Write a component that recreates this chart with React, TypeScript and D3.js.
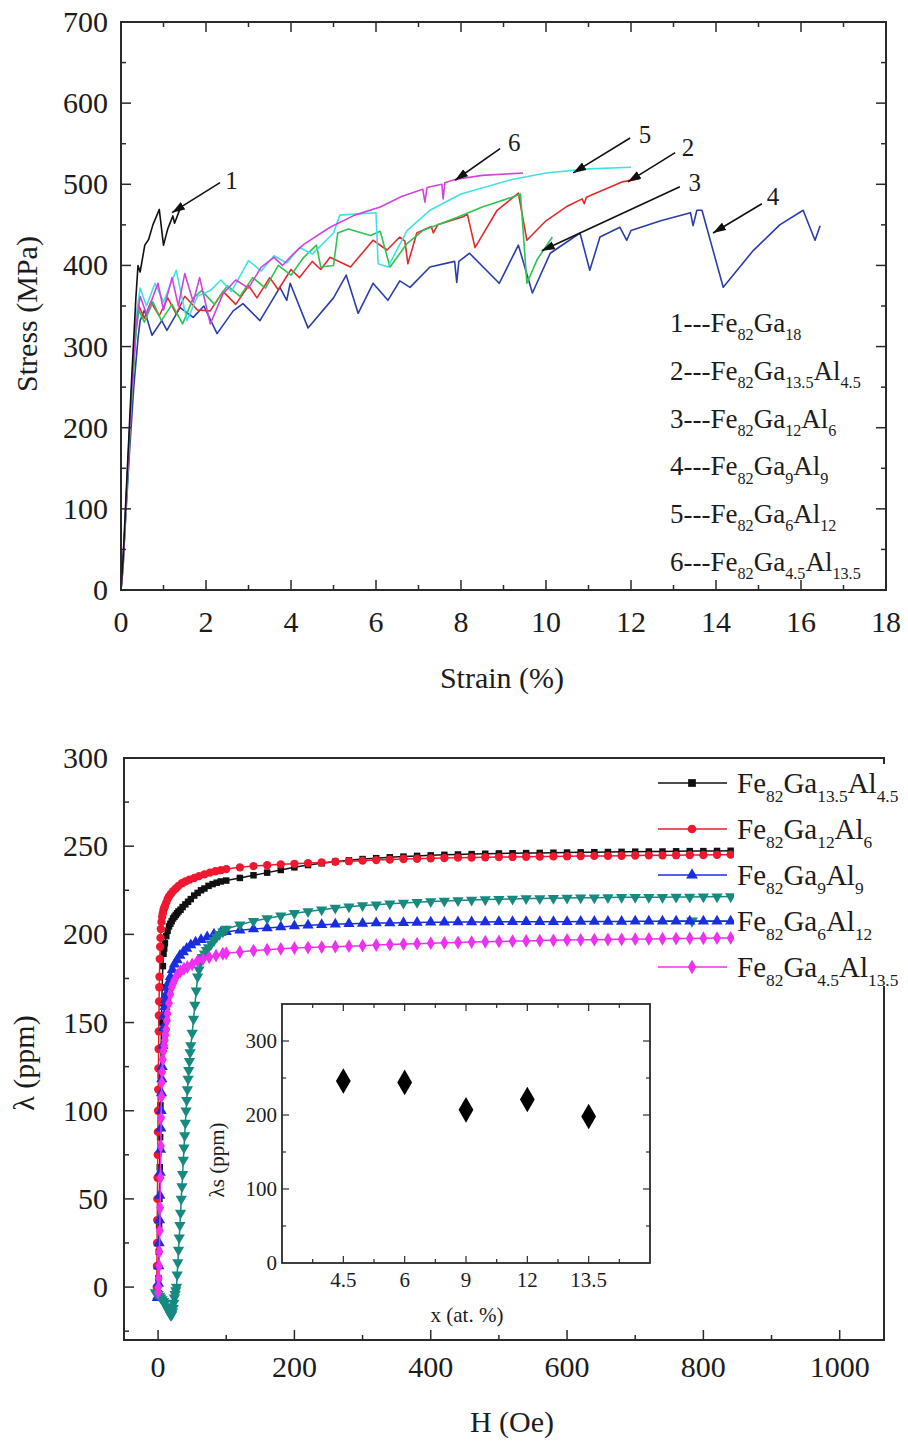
import React from 'react';
import * as d3 from 'd3';

type P = [number, number];
const FONT = "'Liberation Serif', 'DejaVu Serif', 'Times New Roman', Times, serif";
const INK = '#1c1c1c';

// ---------------- Top chart: stress-strain ----------------
const strainTicks = [0, 2, 4, 6, 8, 10, 12, 14, 16, 18];
const stressTicks = [0, 100, 200, 300, 400, 500, 600, 700];

const curve1: P[] = [[0,0],[0.05,40],[0.15,150],[0.25,260],[0.35,360],[0.4,400],[0.45,392],[0.56,425],[0.65,432],[0.75,450],[0.9,469],[1.0,425],[1.1,445],[1.22,461],[1.26,452],[1.39,470]];
const curve2: P[] = [[0,0],[0.05,30],[0.15,140],[0.25,240],[0.35,320],[0.42,350],[0.55,335],[0.7,355],[0.9,338],[1.1,360],[1.3,340],[1.5,362],[1.8,345],[2.1,344],[2.4,368],[2.7,352],[3.0,375],[3.2,360],[3.5,385],[3.7,370],[4.0,395],[4.2,385],[4.5,405],[4.7,395],[4.92,410],[5.4,398],[5.93,431],[6.26,419],[6.56,435],[6.68,430],[6.75,402],[6.96,440],[7.3,448],[7.35,440],[7.45,450],[8.05,460],[8.15,463],[8.33,422],[8.85,468],[9.35,489],[9.55,431],[10.0,455],[10.5,473],[10.85,482],[10.9,476],[10.95,484],[11.8,503],[12.2,507]];
const curve3: P[] = [[0,0],[0.05,30],[0.15,135],[0.25,235],[0.35,315],[0.42,345],[0.55,330],[0.75,355],[0.95,332],[1.2,352],[1.45,328],[1.7,360],[1.9,369],[2.2,352],[2.5,375],[2.8,362],[3.1,385],[3.4,372],[3.7,400],[4.0,388],[4.3,410],[4.6,425],[4.7,398],[5.0,400],[5.1,440],[5.35,445],[5.87,437],[6.1,442],[6.33,398],[6.73,427],[7.1,443],[7.9,459],[8.5,472],[9.2,484],[9.4,488],[9.55,378],[9.8,408],[10.15,435]];
const curve4: P[] = [[0,0],[0.1,80],[0.2,170],[0.3,250],[0.4,310],[0.45,332],[0.55,345],[0.73,314],[0.96,332],[1.08,320],[1.39,348],[1.7,336],[1.95,350],[2.26,316],[2.64,344],[2.87,353],[3.27,332],[3.74,373],[3.9,357],[3.98,378],[4.4,323],[5.0,360],[5.3,388],[5.58,341],[5.93,378],[6.28,357],[6.56,381],[6.8,373],[7.27,398],[7.85,405],[7.9,379],[7.95,405],[8.2,415],[8.9,378],[9.35,425],[9.68,366],[10.1,415],[10.8,440],[11.03,394],[11.27,435],[11.74,447],[11.9,431],[12.0,443],[12.7,455],[13.4,465],[13.46,449],[13.55,468],[13.67,468],[14.17,373],[14.87,418],[15.5,450],[16.05,468],[16.33,431],[16.45,449]];
const curve5: P[] = [[0,0],[0.05,30],[0.15,145],[0.25,250],[0.35,335],[0.45,372],[0.6,350],[0.8,378],[1.0,355],[1.3,394],[1.55,332],[1.8,362],[2.1,369],[2.35,382],[2.6,368],[3.0,406],[3.3,393],[3.6,412],[3.9,403],[4.2,422],[4.5,414],[5.0,440],[5.15,462],[6.0,465],[6.05,402],[6.28,398],[6.73,443],[7.27,468],[8.0,488],[9.2,506],[10.0,514],[11.0,519],[12.0,521]];
const curve6: P[] = [[0,0],[0.05,30],[0.15,140],[0.25,245],[0.35,325],[0.45,362],[0.6,340],[0.87,378],[1.0,345],[1.2,385],[1.35,350],[1.5,390],[1.7,355],[1.85,385],[2.1,328],[2.4,365],[2.7,382],[3.0,372],[3.3,398],[3.6,410],[3.8,400],[4.05,414],[4.3,426],[4.92,447],[5.5,462],[6.1,472],[6.6,485],[7.1,494],[7.15,478],[7.2,496],[7.55,500],[7.58,482],[7.62,502],[7.86,506],[8.5,511],[9.46,514]];

const topCurves = [curve4, curve2, curve3, curve5, curve6, curve1];
const topColors = ['#2a3eaa', '#e32a2e', '#2dc450', '#3ee2e6', '#cf44dc', '#111111'];

const topLegend = [
  '1---Fe_{82}Ga_{18}',
  '2---Fe_{82}Ga_{13.5}Al_{4.5}',
  '3---Fe_{82}Ga_{12}Al_{6}',
  '4---Fe_{82}Ga_{9}Al_{9}',
  '5---Fe_{82}Ga_{6}Al_{12}',
  '6---Fe_{82}Ga_{4.5}Al_{13.5}',
];

const arrowLabels = ['1', '2', '3', '4', '5', '6'];
const arrowTail: P[] = [[2.33, 502], [13.04, 539], [13.15, 497], [15.08, 476], [11.98, 557], [8.92, 544]];
const arrowTip: P[] = [[1.2, 465], [11.93, 503], [9.9, 418], [13.93, 440], [10.64, 514], [7.86, 505]];
const arrowLabelPos: P[] = [[2.6, 504], [13.34, 545], [13.5, 502], [15.34, 484], [12.33, 561], [9.25, 551]];

// ---------------- Bottom chart: magnetostriction ----------------
const hTicks = [0, 200, 400, 600, 800, 1000];
const lambdaTicks = [0, 50, 100, 150, 200, 250, 300];

const hHigh = [100,120,140,160,180,200,220,240,260,280,300,320,340,360,380,400,420,440,460,480,500,520,540,560,580,600,620,640,660,680,700,720,740,760,780,800,820,840];

const lowBlack: P[] = [[0,-5],[0.5,5],[1,20],[1.5,35],[2,50],[2.5,68],[3,85],[3.5,103],[4,120],[4.5,136],[5,150],[5.5,161],[6,170],[7,182],[8,189],[9,192],[10,195],[12,199],[14,202],[16,204.5],[18,206],[20,207.5],[22,209],[24,210],[26,211],[28,212],[30,213],[33,214],[36,215.5],[40,217],[44,218.5],[48,220],[53,222],[58,223.5],[63,225],[68,226],[74,227.5],[80,228.5],[86,229.3],[92,230]];
const highBlack = [230.5,232,233.5,235,236.5,238,239.3,240.3,241.2,242,242.7,243.2,243.7,244.1,244.5,244.8,245.1,245.3,245.5,245.7,245.9,246,246.1,246.2,246.3,246.4,246.5,246.6,246.7,246.8,246.9,247,247,247.1,247.2,247.2,247.3,247.4];

const lowRed: P[] = [[-2,0],[-1.75,12],[-1.5,25],[-1.25,38],[-1,50],[-0.75,62],[-0.5,75],[-0.25,88],[0,100],[0.25,112],[0.5,124],[0.75,135],[1,145],[1.25,154],[1.5,162],[1.75,170],[2,176],[2.5,186],[3,193],[3.5,198],[4,203],[5,207],[6,210],[7,212],[8,214],[9,215],[10,216],[12,218],[14,220],[16,221.5],[19,223],[22,224.5],[26,226],[30,227.5],[35,229],[40,230],[46,231],[53,232],[60,233],[68,234],[76,235],[84,235.8],[92,236.4]];
const highRed = [237,238,238.7,239.2,239.7,240,240.4,240.8,241.2,241.5,241.8,242.1,242.4,242.7,242.9,243.1,243.3,243.5,243.6,243.7,243.8,243.9,244,244.1,244.2,244.3,244.4,244.5,244.5,244.6,244.7,244.8,244.8,244.9,245,245,245.1,245.2];

const lowBlue: P[] = [[-1,-6],[0,-5],[0.5,2],[1,12],[1.5,25],[2,38],[2.5,52],[3,65],[3.5,78],[4,90],[4.5,100],[5,110],[5.5,118],[6,125],[7,137],[8,147],[9,154],[10,159],[11,163],[12,166],[14,170],[16,173],[18,176],[21,180],[24,183],[28,185.5],[32,188],[37,190],[42,192],[48,194],[55,195.5],[63,197],[72,198.5],[82,200],[92,201]];
const highBlue = [201.5,202.3,203,203.6,204.2,204.8,205.2,205.5,205.8,206,206.2,206.4,206.5,206.6,206.7,206.8,206.9,207,207,207,207.1,207.1,207.1,207.2,207.2,207.2,207.3,207.3,207.3,207.3,207.4,207.4,207.4,207.4,207.5,207.5,207.5,207.5];

const lowTeal: P[] = [[-4,-3],[-2,-3.5],[0,-4],[2,-5],[4,-6],[6,-7],[8,-8],[10,-9],[12,-11],[14,-12.5],[16,-14],[18,-15.5],[19,-16],[20,-15.5],[21,-14],[22,-12],[23,-9],[24,-6],[25,-4],[26,-2],[27,0],[28,7],[29,14],[30,21],[31,28],[32,35],[33,42],[34,50],[35,57],[36,64],[37,72],[38,79],[39,86],[40,93],[41,100],[42,106],[43,112],[44,118],[45,123],[46,128],[47,133],[48,137],[50,144],[52,152],[54,160],[56,168],[58,176],[60,180],[62,184],[65,187],[68,189],[71,191],[74,192.5],[78,194.5],[82,196.5],[86,198.5],[90,200],[95,201.5]];
const highTeal = [203,205.5,207.5,209,210.5,212,213,214,215,215.7,216.3,216.8,217.3,217.8,218.2,218.6,218.9,219.2,219.5,219.7,219.9,220.1,220.3,220.4,220.5,220.6,220.7,220.8,220.9,221,221,221.1,221.1,221.2,221.2,221.3,221.3,221.4];

const lowMag: P[] = [[0,-3],[0.5,0],[1,5],[1.5,12],[2,20],[2.5,32],[3,45],[3.5,62],[4,80],[4.5,96],[5,108],[5.5,116],[6,122],[7,129],[8,134],[9,137],[10,140],[11,143],[12,146],[13,151],[14,155],[16,161],[18,166],[20,170],[22,172],[24,174],[28,177],[33,179],[38,180.5],[43,181.5],[50,183],[58,185],[66,186],[75,187],[85,188],[95,189]];
const highMag = [189.3,190,190.8,191.3,191.8,192.2,192.5,192.8,193,193.3,193.6,193.9,194.2,194.5,194.7,195,195.2,195.4,195.6,195.8,196,196.2,196.3,196.5,196.6,196.8,196.9,197,197.1,197.2,197.3,197.4,197.5,197.6,197.7,197.8,197.9,198];

const seriesNames = [
  'Fe_{82}Ga_{13.5}Al_{4.5}',
  'Fe_{82}Ga_{12}Al_{6}',
  'Fe_{82}Ga_{9}Al_{9}',
  'Fe_{82}Ga_{6}Al_{12}',
  'Fe_{82}Ga_{4.5}Al_{13.5}',
];
const seriesColors = ['#111111', '#f01830', '#1a2ee0', '#178a80', '#f030f0'];
const seriesSymbols = [d3.symbolSquare, d3.symbolCircle, d3.symbolTriangle, d3.symbolTriangle, d3.symbolDiamond];
const seriesRotate = [0, 0, 0, 180, 0];
const lowParts = [lowBlack, lowRed, lowBlue, lowTeal, lowMag];
const highParts = [highBlack, highRed, highBlue, highTeal, highMag];

// inset
const insetCats = ['4.5', '6', '9', '12', '13.5'];
const insetLambdaS = [246, 244, 207, 221, 198];
const insetYTicks = [0, 100, 200, 300];

// ---------------- helpers ----------------
const txt = (size: number) => ({ fontFamily: FONT, fontSize: size + 'px' });

function Formula({ x, y, text, size }: { x: number; y: number; text: string; size: number }) {
  const parts = text.split(/(_\{[^}]*\})/).filter((s) => s.length);
  const sub = size * 0.6;
  const shift = size * 0.3;
  let low = false;
  const spans = parts.map((p, i) => {
    if (p.startsWith('_{')) {
      const dy = low ? 0 : shift;
      low = true;
      return <tspan key={i} style={{ fontSize: sub + 'px' }} dy={dy}>{p.slice(2, -1)}</tspan>;
    }
    const dy = low ? -shift : 0;
    low = false;
    return <tspan key={i} style={{ fontSize: size + 'px' }} dy={dy}>{p}</tspan>;
  });
  return (
    <text x={x} y={y} style={txt(size)} fill={INK}>
      {spans}
    </text>
  );
}

export default function App() {
  const xT = d3.scaleLinear().domain([0, 18]).range([121, 886]);
  const yT = d3.scaleLinear().domain([0, 700]).range([590, 22]);
  const lineT = d3.line<P>().x((d) => xT(d[0])).y((d) => yT(d[1]));

  const xB = d3.scaleLinear().domain([-50, 1065]).range([124, 884]);
  const yB = d3.scaleLinear().domain([-30, 300]).range([1340, 758]);
  const lineB = d3.line<P>().x((d) => xB(d[0])).y((d) => yB(d[1]));

  const xI = d3.scaleLinear().domain([0, 6]).range([282, 650]);
  const yI = d3.scaleLinear().domain([0, 350]).range([1263, 1004]);

  const series: P[][] = lowParts.map((low, s) => low.concat(hHigh.map((h, i) => [h, highParts[s][i]] as P)));

  const strainMinor = d3.range(1, 18, 2);
  const stressMinor = d3.range(50, 700, 100);
  const hMinor = d3.range(100, 1001, 200);
  const lambdaMinor = d3.range(-25, 300, 50);

  const frame = '#2a2a2a';

  return (
    <svg width={908} height={1442} style={{ position: 'absolute', left: 0, top: 0, background: '#fff' }}>
      <defs>
        <marker id="ah" viewBox="0 0 12 8" refX="12" refY="4" markerWidth="13" markerHeight="9" markerUnits="userSpaceOnUse" orient="auto">
          <path d="M0,0 L12,4 L0,8 z" fill="#111" />
        </marker>
      </defs>
      <rect x={0} y={0} width={908} height={1442} fill="#fff" />

      {/* ================= TOP CHART ================= */}
      {topCurves.map((c, i) => (
        <path key={'tc' + i} d={lineT(c) || ''} fill="none" stroke={topColors[i]} strokeWidth={1.6} strokeLinejoin="round" />
      ))}

      <rect x={xT(0)} y={yT(700)} width={xT(18) - xT(0)} height={yT(0) - yT(700)} fill="none" stroke={frame} strokeWidth={2} />
      {strainTicks.map((t) => (
        <g key={'sx' + t}>
          <line x1={xT(t)} x2={xT(t)} y1={yT(0)} y2={yT(0) - 10} stroke={frame} strokeWidth={1.5} />
          <line x1={xT(t)} x2={xT(t)} y1={yT(700)} y2={yT(700) + 10} stroke={frame} strokeWidth={1.5} />
          <text x={xT(t)} y={632} style={txt(30)} fill={INK} textAnchor="middle">{t}</text>
        </g>
      ))}
      {strainMinor.map((t) => (
        <g key={'sxm' + t}>
          <line x1={xT(t)} x2={xT(t)} y1={yT(0)} y2={yT(0) - 5} stroke={frame} strokeWidth={1.5} />
          <line x1={xT(t)} x2={xT(t)} y1={yT(700)} y2={yT(700) + 5} stroke={frame} strokeWidth={1.5} />
        </g>
      ))}
      {stressTicks.map((t) => (
        <g key={'sy' + t}>
          <line x1={xT(0)} x2={xT(0) + 10} y1={yT(t)} y2={yT(t)} stroke={frame} strokeWidth={1.5} />
          <line x1={xT(18)} x2={xT(18) - 10} y1={yT(t)} y2={yT(t)} stroke={frame} strokeWidth={1.5} />
          <text x={108} y={yT(t) + 10} style={txt(30)} fill={INK} textAnchor="end">{t}</text>
        </g>
      ))}
      {stressMinor.map((t) => (
        <g key={'sym' + t}>
          <line x1={xT(0)} x2={xT(0) + 5} y1={yT(t)} y2={yT(t)} stroke={frame} strokeWidth={1.5} />
          <line x1={xT(18)} x2={xT(18) - 5} y1={yT(t)} y2={yT(t)} stroke={frame} strokeWidth={1.5} />
        </g>
      ))}
      <text x={502} y={688} style={txt(30)} fill={INK} textAnchor="middle">Strain (%)</text>
      <text transform="translate(37,314) rotate(-90)" style={txt(30)} fill={INK} textAnchor="middle">Stress (MPa)</text>

      {arrowLabels.map((lab, i) => (
        <g key={'ar' + i}>
          <line x1={xT(arrowTail[i][0])} y1={yT(arrowTail[i][1])} x2={xT(arrowTip[i][0])} y2={yT(arrowTip[i][1])} stroke="#111" strokeWidth={1.6} markerEnd="url(#ah)" />
          <text x={xT(arrowLabelPos[i][0])} y={yT(arrowLabelPos[i][1]) + 8} style={txt(25)} fill={INK} textAnchor="middle">{lab}</text>
        </g>
      ))}

      {topLegend.map((t, i) => (
        <Formula key={'tl' + i} x={670} y={332 + i * 47.8} text={t} size={27} />
      ))}

      {/* ================= BOTTOM CHART ================= */}
      {seriesNames.map((n, i) => {
        const y = 783 + i * 46;
        const sym = d3.symbol().type(seriesSymbols[i]).size(60)();
        return (
          <g key={'bl' + i}>
            <line x1={658} x2={727} y1={y} y2={y} stroke={seriesColors[i]} strokeWidth={1.6} />
            <path d={sym || ''} transform={`translate(692,${y}) rotate(${seriesRotate[i]})`} fill={seriesColors[i]} />
          </g>
        );
      })}

      {series.map((pts, s) => {
        const sym = d3.symbol().type(seriesSymbols[s]).size(s === 0 ? 42 : 55)() || '';
        return (
          <g key={'bs' + s}>
            <path d={lineB(pts) || ''} fill="none" stroke={seriesColors[s]} strokeWidth={1.5} />
            {pts.map((p, i) => (
              <path key={i} d={sym} transform={`translate(${xB(p[0])},${yB(p[1])}) rotate(${seriesRotate[s]})`} fill={seriesColors[s]} />
            ))}
          </g>
        );
      })}

      <rect x={xB(-50)} y={yB(300)} width={xB(1065) - xB(-50)} height={yB(-30) - yB(300)} fill="none" stroke={frame} strokeWidth={2} />
      {hTicks.map((t) => (
        <g key={'hx' + t}>
          <line x1={xB(t)} x2={xB(t)} y1={yB(-30)} y2={yB(-30) - 10} stroke={frame} strokeWidth={1.5} />
          <text x={xB(t)} y={1377} style={txt(30)} fill={INK} textAnchor="middle">{t}</text>
        </g>
      ))}
      {hMinor.map((t) => (
        <line key={'hxm' + t} x1={xB(t)} x2={xB(t)} y1={yB(-30)} y2={yB(-30) - 5} stroke={frame} strokeWidth={1.5} />
      ))}
      {lambdaTicks.map((t) => (
        <g key={'ly' + t}>
          <line x1={xB(-50)} x2={xB(-50) + 10} y1={yB(t)} y2={yB(t)} stroke={frame} strokeWidth={1.5} />
          <text x={108} y={yB(t) + 10} style={txt(30)} fill={INK} textAnchor="end">{t}</text>
        </g>
      ))}
      {lambdaMinor.map((t) => (
        <line key={'lym' + t} x1={xB(-50)} x2={xB(-50) + 5} y1={yB(t)} y2={yB(t)} stroke={frame} strokeWidth={1.5} />
      ))}
      <text x={512} y={1432} style={txt(30)} fill={INK} textAnchor="middle">H (Oe)</text>
      <text transform="translate(34,1063) rotate(-90)" style={txt(30)} fill={INK} textAnchor="middle">λ (ppm)</text>

      <rect x={734} y={764} width={174} height={222} fill="#fff" />
      {seriesNames.map((n, i) => (
        <Formula key={'blt' + i} x={737} y={783 + i * 46 + 10} text={n} size={29} />
      ))}

      {/* ================= INSET ================= */}
      <rect x={xI(0)} y={yI(350)} width={xI(6) - xI(0)} height={yI(0) - yI(350)} fill="#fff" stroke={frame} strokeWidth={1.8} />
      {d3.range(0.5, 6, 0.5).map((t) => (
        <g key={'ix' + t}>
          <line x1={xI(t)} x2={xI(t)} y1={yI(0)} y2={yI(0) - (Number.isInteger(t) ? 7 : 4)} stroke={frame} strokeWidth={1.2} />
          <line x1={xI(t)} x2={xI(t)} y1={yI(350)} y2={yI(350) + (Number.isInteger(t) ? 7 : 4)} stroke={frame} strokeWidth={1.2} />
        </g>
      ))}
      {d3.range(50, 350, 50).map((t) => (
        <g key={'iy' + t}>
          <line x1={xI(0)} x2={xI(0) + (t % 100 === 0 ? 7 : 4)} y1={yI(t)} y2={yI(t)} stroke={frame} strokeWidth={1.2} />
          <line x1={xI(6)} x2={xI(6) - (t % 100 === 0 ? 7 : 4)} y1={yI(t)} y2={yI(t)} stroke={frame} strokeWidth={1.2} />
        </g>
      ))}
      {insetYTicks.map((t) => (
        <text key={'iyl' + t} x={277} y={yI(t) + 7} style={txt(21)} fill={INK} textAnchor="end">{t}</text>
      ))}
      {insetCats.map((c, i) => (
        <text key={'ixl' + c} x={xI(i + 1)} y={1287} style={txt(21)} fill={INK} textAnchor="middle">{c}</text>
      ))}
      {insetLambdaS.map((v, i) => (
        <path key={'id' + i} d={d3.symbol().type(d3.symbolDiamond).size(190)() || ''} transform={`translate(${xI(i + 1)},${yI(v)})`} fill="#000" />
      ))}
      <text x={467} y={1322} style={txt(21)} fill={INK} textAnchor="middle">x (at. %)</text>
      <text transform="translate(224,1160) rotate(-90)" style={txt(21)} fill={INK} textAnchor="middle">λs (ppm)</text>
    </svg>
  );
}
